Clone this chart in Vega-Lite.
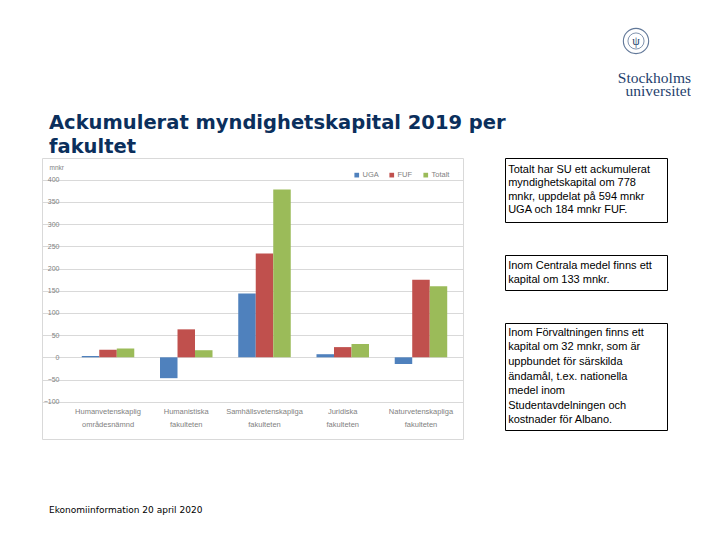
{
  "$schema": "https://vega.github.io/schema/vega-lite/v6.json",
  "padding": {"left": 41, "top": 14, "right": 0, "bottom": 0},
  "background": "white",
  "config": {"view": {"stroke": null}, "font": "DejaVu Sans"},
  "resolve": {"scale": {"color": "independent"}, "legend": {"color": "independent"}},
  "datasets": {
    "bars": [
      {"fakultet": "Humanvetenskaplig områdesnämnd", "serie": "UGA", "mnkr": 3},
      {"fakultet": "Humanvetenskaplig områdesnämnd", "serie": "FUF", "mnkr": 17},
      {"fakultet": "Humanvetenskaplig områdesnämnd", "serie": "Totalt", "mnkr": 20},
      {"fakultet": "Humanistiska fakulteten", "serie": "UGA", "mnkr": -47},
      {"fakultet": "Humanistiska fakulteten", "serie": "FUF", "mnkr": 63},
      {"fakultet": "Humanistiska fakulteten", "serie": "Totalt", "mnkr": 16},
      {"fakultet": "Samhällsvetenskapliga fakulteten", "serie": "UGA", "mnkr": 144},
      {"fakultet": "Samhällsvetenskapliga fakulteten", "serie": "FUF", "mnkr": 234},
      {"fakultet": "Samhällsvetenskapliga fakulteten", "serie": "Totalt", "mnkr": 378},
      {"fakultet": "Juridiska fakulteten", "serie": "UGA", "mnkr": 7},
      {"fakultet": "Juridiska fakulteten", "serie": "FUF", "mnkr": 23},
      {"fakultet": "Juridiska fakulteten", "serie": "Totalt", "mnkr": 30},
      {"fakultet": "Naturvetenskapliga fakulteten", "serie": "UGA", "mnkr": -15},
      {"fakultet": "Naturvetenskapliga fakulteten", "serie": "FUF", "mnkr": 175},
      {"fakultet": "Naturvetenskapliga fakulteten", "serie": "Totalt", "mnkr": 160}
    ],
    "notes": [
      {"box": 1, "line": 1, "text": "Totalt har SU ett ackumulerat"},
      {"box": 1, "line": 2, "text": "myndighetskapital om 778"},
      {"box": 1, "line": 3, "text": "mnkr, uppdelat på 594 mnkr"},
      {"box": 1, "line": 4, "text": "UGA och 184 mnkr FUF."},
      {"box": 2, "line": 1, "text": "Inom Centrala medel finns ett"},
      {"box": 2, "line": 2, "text": "kapital om 133 mnkr."},
      {"box": 3, "line": 1, "text": "Inom Förvaltningen finns ett"},
      {"box": 3, "line": 2, "text": "kapital om 32 mnkr, som är"},
      {"box": 3, "line": 3, "text": "uppbundet för särskilda"},
      {"box": 3, "line": 4, "text": "ändamål, t.ex. nationella"},
      {"box": 3, "line": 5, "text": "medel inom"},
      {"box": 3, "line": 6, "text": "Studentavdelningen och"},
      {"box": 3, "line": 7, "text": "kostnader för Albano."}
    ],
    "logo": [{"name": "Stockholms universitet", "seal": "ψ"}]
  },
  "spacing": -10,
  "vconcat": [
    {
      "width": 649,
      "height": 83,
      "data": {"name": "logo"},
      "title": {
        "text": ["Ackumulerat myndighetskapital 2019 per", "fakultet"],
        "orient": "bottom",
        "anchor": "start",
        "dx": 7,
        "offset": 15,
        "font": "DejaVu Sans",
        "fontSize": 19.5,
        "fontWeight": "bold",
        "color": "#0b2f5c",
        "lineHeight": 24
      },
      "layer": [
        {
          "mark": {"type": "point", "shape": "circle", "filled": false, "size": 640, "stroke": "#1f3f6e", "strokeWidth": 1.1, "xOffset": -55, "yOffset": 27},
          "encoding": {"x": {"value": "width"}, "y": {"value": 0}}
        },
        {
          "mark": {"type": "point", "shape": "circle", "filled": false, "size": 260, "stroke": "#1f3f6e", "strokeWidth": 0.8, "xOffset": -55, "yOffset": 27},
          "encoding": {"x": {"value": "width"}, "y": {"value": 0}}
        },
        {
          "mark": {"type": "text", "align": "center", "baseline": "middle", "font": "Liberation Serif", "fontSize": 12, "color": "#1f3f6e", "dx": -55, "dy": 27},
          "encoding": {"x": {"value": "width"}, "y": {"value": 0}, "text": {"field": "seal"}}
        },
        {
          "mark": {"type": "text", "align": "right", "baseline": "bottom", "lineBreak": " ", "font": "Liberation Serif", "fontSize": 15.5, "lineHeight": 12.5, "color": "#1f3f6e", "dy": -11},
          "encoding": {"x": {"value": "width"}, "y": {"value": "height"}, "text": {"field": "name"}}
        }
      ]
    },
    {
      "columns": 2,
      "align": "none",
      "spacing": 40,
      "resolve": {"scale": {"color": "independent"}, "legend": {"color": "independent"}},
      "concat": [
        {
          "width": 421,
          "height": 281,
          "view": {"stroke": "#d9d9d9", "strokeWidth": 1},
          "data": {"name": "bars"},
          "title": {
            "text": "Ekonomiinformation 20 april 2020",
            "orient": "bottom",
            "anchor": "start",
            "dx": 7,
            "offset": 67,
            "font": "DejaVu Sans",
            "fontSize": 9,
            "fontWeight": "normal",
            "color": "#000000"
          },
          "mark": {"type": "bar"},
          "encoding": {
            "x": {
              "field": "fakultet",
              "type": "nominal",
              "sort": ["Humanvetenskaplig områdesnämnd", "Humanistiska fakulteten", "Samhällsvetenskapliga fakulteten", "Juridiska fakulteten", "Naturvetenskapliga fakulteten"],
              "scale": {"paddingInner": 0.329, "paddingOuter": 0.355, "align": 0.716},
              "axis": {
                "title": null,
                "labelExpr": "split(datum.label, ' ')",
                "labelAngle": 0,
                "offset": -34,
                "domain": false,
                "ticks": false,
                "grid": false,
                "labelPadding": 2,
                "labelFont": "Liberation Sans",
                "labelFontSize": 7.5,
                "labelColor": "#7f7f7f",
                "labelLineHeight": 13
              }
            },
            "xOffset": {
              "field": "serie",
              "type": "nominal",
              "sort": ["UGA", "FUF", "Totalt"],
              "scale": {"paddingInner": 0, "paddingOuter": 0}
            },
            "y": {
              "field": "mnkr",
              "type": "quantitative",
              "stack": null,
              "scale": {"domain": [-184, 449], "nice": false},
              "axis": {
                "values": [-100, -50, 0, 50, 100, 150, 200, 250, 300, 350, 400],
                "title": "mnkr",
                "titleAngle": 0,
                "titleX": -12,
                "titleY": 9,
                "titleAlign": "left",
                "titleBaseline": "middle",
                "titleFont": "Liberation Sans",
                "titleFontSize": 6.5,
                "titleFontWeight": "normal",
                "titleColor": "#7f7f7f",
                "offset": -19,
                "domain": false,
                "ticks": false,
                "labelPadding": 2,
                "labelFont": "Liberation Sans",
                "labelFontSize": 7,
                "labelColor": "#7f7f7f",
                "grid": true,
                "gridColor": "#d9d9d9",
                "gridWidth": 1
              }
            },
            "color": {
              "field": "serie",
              "type": "nominal",
              "scale": {"domain": ["UGA", "FUF", "Totalt"], "range": ["#4f81bd", "#c0504d", "#9bbb59"]},
              "legend": {
                "title": null,
                "orient": "top-right",
                "direction": "horizontal",
                "symbolType": "square",
                "symbolSize": 22,
                "symbolStrokeWidth": 0,
                "labelFont": "Liberation Sans",
                "labelFontSize": 7.5,
                "labelColor": "#7f7f7f",
                "labelOffset": 2,
                "columnPadding": 9,
                "offset": 13,
                "padding": 0
              }
            }
          }
        },
        {
          "spacing": 31,
          "vconcat": [
            {
              "width": 162,
              "height": 64,
              "view": {"stroke": "#000000", "strokeWidth": 1},
              "data": {"name": "notes"},
              "transform": [{"filter": "datum.box == 1"}],
              "mark": {"type": "text", "align": "left", "baseline": "middle", "font": "Liberation Sans", "fontSize": 11, "color": "#000000"},
              "encoding": {
                "x": {
                  "datum": 0,
                  "type": "quantitative",
                  "scale": {"domain": [-1, 50]},
                  "axis": {"orient": "top", "labels": false, "ticks": false, "domain": false, "grid": false, "title": ".", "titleColor": "#ffffff", "titleFontSize": 7, "titlePadding": 3}
                },
                "y": {"field": "line", "type": "ordinal", "axis": null, "scale": {"padding": 0.85}},
                "text": {"field": "text"}
              }
            },
            {
              "width": 162,
              "height": 35,
              "view": {"stroke": "#000000", "strokeWidth": 1},
              "data": {"name": "notes"},
              "transform": [{"filter": "datum.box == 2"}],
              "mark": {"type": "text", "align": "left", "baseline": "middle", "font": "Liberation Sans", "fontSize": 11, "color": "#000000"},
              "encoding": {
                "x": {"datum": 0, "type": "quantitative", "scale": {"domain": [-1, 50]}, "axis": null},
                "y": {"field": "line", "type": "ordinal", "axis": null, "scale": {"padding": 0.75}},
                "text": {"field": "text"}
              }
            },
            {
              "width": 162,
              "height": 107,
              "view": {"stroke": "#000000", "strokeWidth": 1},
              "data": {"name": "notes"},
              "transform": [{"filter": "datum.box == 3"}],
              "mark": {"type": "text", "align": "left", "baseline": "middle", "font": "Liberation Sans", "fontSize": 11, "color": "#000000"},
              "encoding": {
                "x": {"datum": 0, "type": "quantitative", "scale": {"domain": [-1, 50]}, "axis": null},
                "y": {"field": "line", "type": "ordinal", "axis": null, "scale": {"padding": 0.68}},
                "text": {"field": "text"}
              }
            }
          ]
        }
      ]
    }
  ]
}
